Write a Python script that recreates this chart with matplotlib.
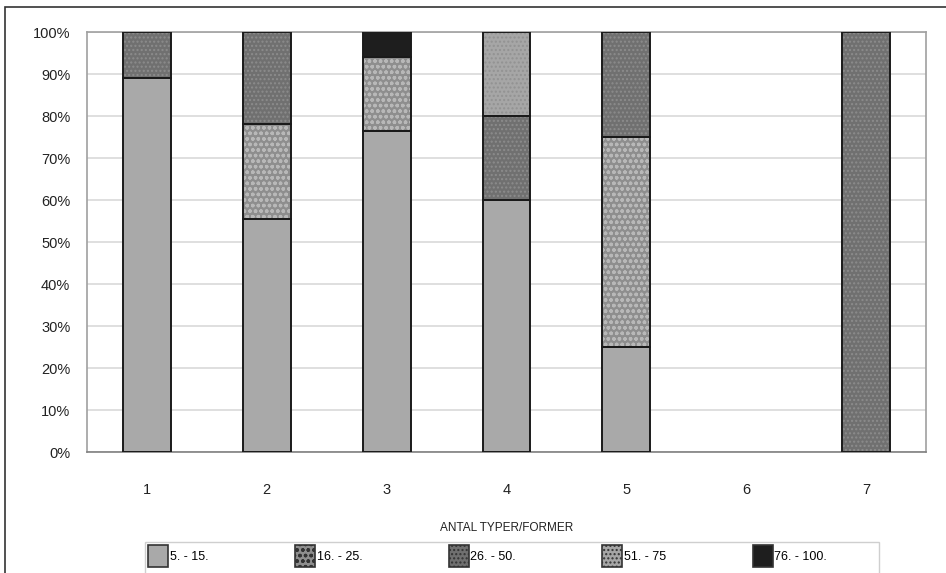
import numpy as np
import matplotlib
matplotlib.use("Agg")
import matplotlib.pyplot as plt
import matplotlib.ticker as mtick
from matplotlib.patches import Rectangle, Patch

plt.rcParams["font.family"] = ["Liberation Sans", "DejaVu Sans"]
plt.rcParams["hatch.linewidth"] = 1.0

# --- data (percent of each column) ---
categories = ["1", "2", "3", "4", "5", "6", "7"]
series_labels = ["5. - 15.", "16. - 25.", "26. - 50.", "51. - 75", "76. - 100."]
s_5_15 = [89, 55.5, 76.5, 60, 25, 0, 0]
s_16_25 = [0, 22.5, 17.5, 0, 50, 0, 0]
s_26_50 = [11, 22, 0, 20, 25, 0, 100]
s_51_75 = [0, 0, 0, 20, 0, 0, 0]
s_76_100 = [0, 0, 6, 0, 0, 0, 0]
series = [s_5_15, s_16_25, s_26_50, s_51_75, s_76_100]

# fill, hatch, hatch colour
styles = [
    ("#a9a9a9", None, "#a9a9a9"),
    ("#8e8e8e", "ooo", "#b8b8b8"),
    ("#707070", "....", "#8c8c8c"),
    ("#a6a6a6", "....", "#929292"),
    ("#1e1e1e", None, "#1e1e1e"),
]

fig = plt.figure(figsize=(9.46, 5.73), dpi=100)
ax = fig.add_axes([87 / 946, 1 - 452 / 573, 839 / 946, 420 / 573])

x = np.arange(len(categories))
w = 0.4
bottom = np.zeros(len(categories))
for vals, (fc, hatch, hc) in zip(series, styles):
    vals = np.array(vals, dtype=float)
    ax.bar(x, vals, w, bottom=bottom, color=fc, hatch=hatch,
           edgecolor=hc, linewidth=0, zorder=2)
    mask = vals > 0
    ax.bar(x[mask], vals[mask], w, bottom=bottom[mask], fill=False,
           edgecolor="#1a1a1a", linewidth=1.4, zorder=3)
    bottom += vals

ax.set_xlim(-0.5, len(categories) - 0.5)
ax.set_ylim(0, 100)
ax.set_yticks(np.arange(0, 101, 10))
ax.yaxis.set_major_formatter(mtick.PercentFormatter(decimals=0))
ax.set_xticks(x)
ax.set_xticklabels(categories)
ax.grid(axis="y", color="#d9d9d9", linewidth=1.2, zorder=0)
ax.set_axisbelow(True)
for sp in ax.spines.values():
    sp.set_color("#a0a0a0")
    sp.set_linewidth(1.2)
ax.spines["bottom"].set_color("#808080")
ax.tick_params(axis="both", length=0, labelsize=10.5, colors="#222222")
ax.tick_params(axis="x", pad=22)
ax.tick_params(axis="y", pad=12)
ax.set_xlabel("ANTAL TYPER/FORMER", fontsize=8.5, color="#222222", labelpad=18)

handles = []
for (fc, hatch, hc) in styles:
    handles.append(Patch(facecolor=fc, hatch=hatch, edgecolor="#333333", linewidth=1.2))
leg = fig.legend(handles, series_labels, loc="upper left", ncol=5,
                 bbox_to_anchor=(145 / 946, 1 - 542 / 573),
                 frameon=False, fontsize=9,
                 handlelength=1.6, handleheight=2.3, columnspacing=6.9,
                 handletextpad=0.15, borderpad=0.25, borderaxespad=0)

# legend box (wider than the entries, as in the original)
fig.patches.append(Rectangle((145 / 946, -0.05), 734 / 946, 0.05 + 1 - 542 / 573,
                             transform=fig.transFigure, fill=False,
                             edgecolor="#cfcfcf", linewidth=1.0))

# outer frame around the whole chart (right/bottom edges run off the image)
fig.patches.append(Rectangle((5 / 946, -0.1), 1.0, 1.1 - 7 / 573,
                             transform=fig.transFigure, fill=False,
                             edgecolor="#333333", linewidth=1.2))

fig.savefig("out.png", dpi=100)
